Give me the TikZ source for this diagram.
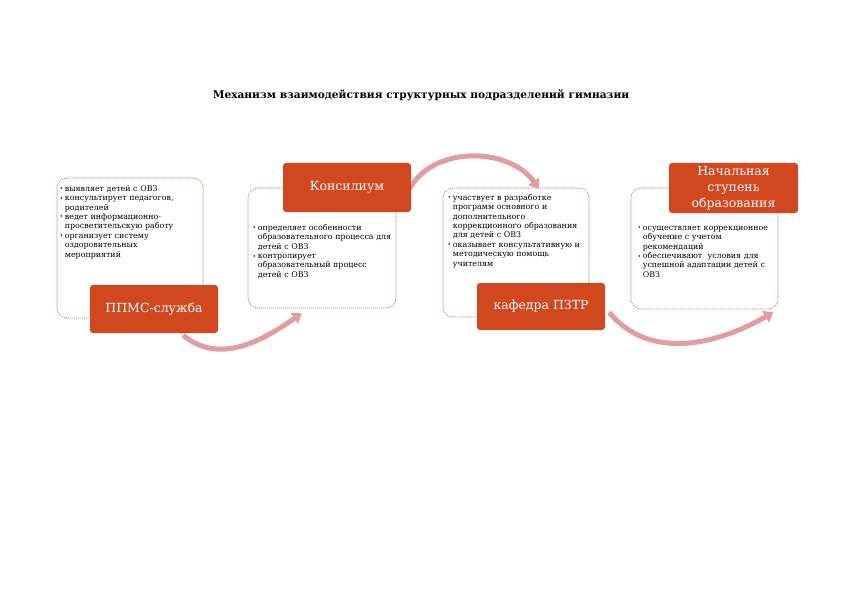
\documentclass[tikz,border=0pt]{standalone}
\usepackage{fontspec}
\setmainfont{DejaVu Serif}
\usetikzlibrary{arrows.meta,backgrounds}
\definecolor{labelred}{RGB}{209,72,32}
\definecolor{framered}{RGB}{196,112,96}
\definecolor{arrowpink}{RGB}{226,158,158}
\newcommand{\itm}[1]{\par\hangindent=5pt\hangafter=1\noindent\makebox[5pt][l]{\raisebox{0.5pt}{\scalebox{0.7}{\textbullet}}}#1}
\newcommand{\nl}{\hfil\break}
\begin{document}
\begin{tikzpicture}[x=1pt,y=-1pt,
    infobox/.style={draw=framered,line width=0.6pt,dash pattern=on 1.2pt off 0.8pt,rounded corners=10pt,fill=white,inner sep=0pt},
    labelbox/.style={fill=labelred,rounded corners=3pt,text=white,inner sep=0pt,minimum width=128pt,font=\fontsize{12.5}{16}\selectfont,align=center},
    itemtext/.style={anchor=north west,inner sep=0pt,text width=150pt,font=\fontsize{7.9}{9.4}\selectfont},
    flowarrow/.style={draw=arrowpink,line width=5pt,-{Triangle[length=9pt,width=13pt]}}]
                    \useasboundingbox (0,0) rectangle (842,596);
                    \node[font=\bfseries\fontsize{10.6}{12}\selectfont] (title) at (421,95){Механизм взаимодействия структурных подразделений гимназии};

                    \node[infobox,minimum width=146pt,minimum height=140pt] (b1) at (130,248){};
                    \node[infobox,minimum width=148pt,minimum height=120pt] (b2) at (322,248){};
                    \node[infobox,minimum width=146pt,minimum height=129pt] (b3) at (516,252.5){};
                    \node[infobox,minimum width=147pt,minimum height=121pt] (b4) at (704.5,248.5){};

                    \node[itemtext] (t1) at ([xshift=3pt,yshift=-4pt]b1.north west){%
                        \itm{выявляет детей с ОВЗ}
                        \itm{консультирует педагогов,\nl родителей}
                        \itm{ведет информационно-\nl просветительскую работу}
                        \itm{организует систему\nl оздоровительных\nl мероприятий}\par};
                    \node[itemtext] (t2) at ([xshift=5pt,yshift=-33pt]b2.north west){%
                        \itm{определяет особенности\nl образовательного процесса для\nl детей с ОВЗ}
                        \itm{контролирует\nl образовательный процесс\nl детей с ОВЗ}\par};
                    \node[itemtext] (t3) at ([xshift=5pt,yshift=-3pt]b3.north west){%
                        \itm{участвует в разработке\nl программ основного и\nl дополнительного\nl коррекционного образования\nl для детей с ОВЗ}
                        \itm{оказывает консультативную и\nl методическую помощь\nl учителям}\par};
                    \node[itemtext] (t4) at ([xshift=7pt,yshift=-33pt]b4.north west){%
                        \itm{осуществляет коррекционное\nl обучение с учетом\nl рекомендаций}
                        \itm{обеспечивают\ \ условия для\nl успешной адаптации детей с\nl ОВЗ}\par};

                    \node[labelbox,minimum height=48pt] (l1) at (154,309){ППМС-служба};
                    \node[labelbox,minimum height=49pt] (l2) at (347,187.5){Консилиум};
                    \node[labelbox,minimum height=47pt] (l3) at (541,306.5){кафедра ПЗТР};
                    \node[labelbox,minimum height=50pt,minimum width=129pt] (l4) at (733.5,188){Начальная\\ступень\\образования};

                    \begin{scope}[on background layer]
                    \draw[flowarrow] ([xshift=-35pt,yshift=-2pt]l1.south east) to[out=-40,in=-145] ([xshift=54pt,yshift=-5pt]b2.south west);
                    \draw[flowarrow] ([xshift=-2pt,yshift=-2pt]l2.east) to[out=62,in=125] ([xshift=96pt,yshift=-1pt]b3.north west);
                    \draw[flowarrow] ([xshift=4pt,yshift=-6pt]l3.east) to[out=-50,in=-150] ([xshift=-5pt,yshift=-3pt]b4.south east);
                    \end{scope}
                \end{tikzpicture}
\end{document}
